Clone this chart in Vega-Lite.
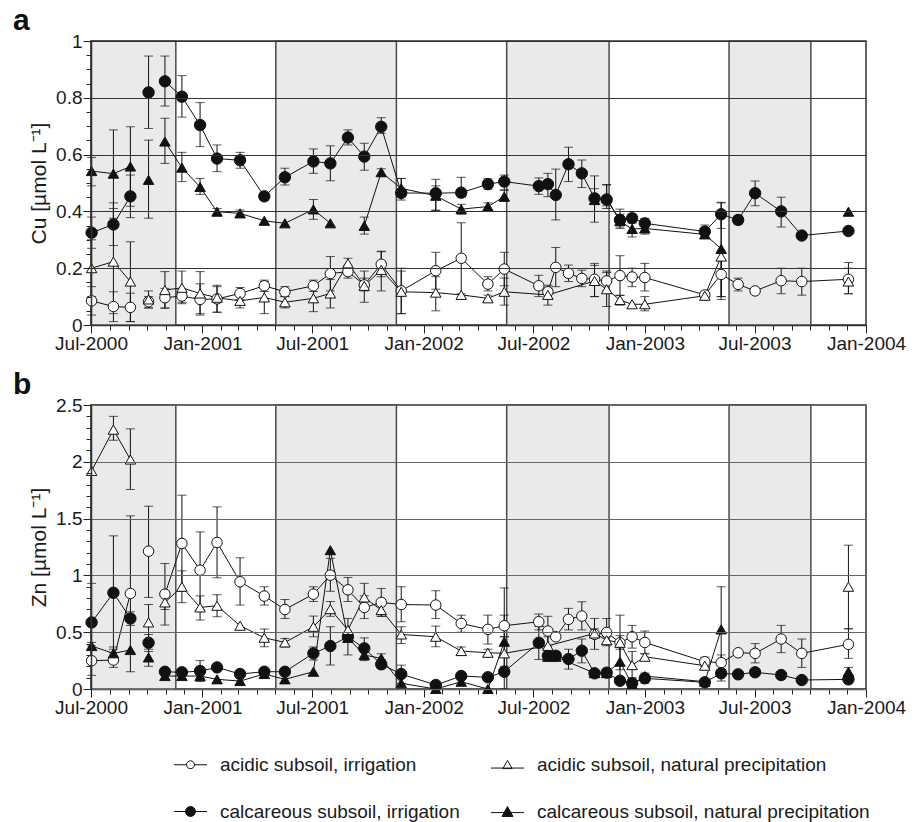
{
"$schema": "https://vega.github.io/schema/vega-lite/v6.json",
"padding": {"left": 12, "top": 5, "right": 5, "bottom": 0},
"background": "white",
"config": {
 "font": "Liberation Sans",
 "view": {"stroke": "#333", "strokeWidth": 1.5},
 "axis": {"labelFont": "Liberation Sans", "labelFontSize": 19, "labelColor": "#1a1a1a", "tickColor": "#222", "tickWidth": 1, "domainColor": "#333", "domainWidth": 1.5, "titleFont": "Liberation Sans", "titleFontSize": 21, "titleFontWeight": "normal", "titleColor": "#1a1a1a", "labelOverlap": false}
},
"spacing": 15,
"datasets": {
 "per": [
  {"start": "2000-07-01", "end": "2000-11-18"},
  {"start": "2001-05-02", "end": "2001-11-17"},
  {"start": "2002-05-18", "end": "2002-11-03"},
  {"start": "2003-05-20", "end": "2003-10-02"}
 ],
 "pts": [
  {"p":"Cu","s":"AI","d":"2000-07-02","v":0.085,"lo":0.035,"hi":0.135,"g":1},
  {"p":"Cu","s":"AI","d":"2000-08-07","v":0.065,"lo":0.012,"hi":0.117,"g":1},
  {"p":"Cu","s":"AI","d":"2000-09-04","v":0.062,"lo":0.012,"hi":0.112,"g":1},
  {"p":"Cu","s":"AI","d":"2000-10-04","v":0.082,"lo":0.06,"hi":0.1,"g":2},
  {"p":"Cu","s":"AI","d":"2000-10-31","v":0.096,"lo":0.059,"hi":0.129,"g":3},
  {"p":"Cu","s":"AI","d":"2000-11-28","v":0.102,"lo":0.08,"hi":0.125,"g":3},
  {"p":"Cu","s":"AI","d":"2000-12-28","v":0.09,"lo":0.035,"hi":0.145,"g":3},
  {"p":"Cu","s":"AI","d":"2001-01-25","v":0.092,"lo":0.045,"hi":0.135,"g":3},
  {"p":"Cu","s":"AI","d":"2001-03-04","v":0.111,"lo":0.09,"hi":0.132,"g":3},
  {"p":"Cu","s":"AI","d":"2001-04-13","v":0.138,"lo":0.118,"hi":0.158,"g":3},
  {"p":"Cu","s":"AI","d":"2001-05-17","v":0.117,"lo":0.1,"hi":0.135,"g":3},
  {"p":"Cu","s":"AI","d":"2001-07-03","v":0.138,"lo":0.118,"hi":0.158,"g":3},
  {"p":"Cu","s":"AI","d":"2001-07-31","v":0.181,"lo":0.12,"hi":0.241,"g":3},
  {"p":"Cu","s":"AI","d":"2001-08-29","v":0.188,"lo":0.165,"hi":0.21,"g":3},
  {"p":"Cu","s":"AI","d":"2001-09-25","v":0.141,"lo":0.12,"hi":0.165,"g":3},
  {"p":"Cu","s":"AI","d":"2001-10-23","v":0.214,"lo":0.17,"hi":0.258,"g":3},
  {"p":"Cu","s":"AI","d":"2001-11-25","v":0.12,"lo":0.04,"hi":0.2,"g":3},
  {"p":"Cu","s":"AI","d":"2002-01-21","v":0.191,"lo":0.126,"hi":0.256,"g":3},
  {"p":"Cu","s":"AI","d":"2002-03-04","v":0.235,"lo":0.11,"hi":0.36,"g":3},
  {"p":"Cu","s":"AI","d":"2002-04-17","v":0.144,"lo":0.12,"hi":0.17,"g":3},
  {"p":"Cu","s":"AI","d":"2002-05-14","v":0.197,"lo":0.138,"hi":0.256,"g":3},
  {"p":"Cu","s":"AI","d":"2002-07-10","v":0.138,"lo":0.1,"hi":0.175,"g":3},
  {"p":"Cu","s":"AI","d":"2002-07-25","v":0.117,"lo":0.095,"hi":0.14,"g":3},
  {"p":"Cu","s":"AI","d":"2002-08-07","v":0.203,"lo":0.135,"hi":0.273,"g":3},
  {"p":"Cu","s":"AI","d":"2002-08-28","v":0.182,"lo":0.153,"hi":0.211,"g":3},
  {"p":"Cu","s":"AI","d":"2002-09-19","v":0.164,"lo":0.135,"hi":0.193,"g":3},
  {"p":"Cu","s":"AI","d":"2002-10-10","v":0.161,"lo":0.1,"hi":0.217,"g":3},
  {"p":"Cu","s":"AI","d":"2002-10-30","v":0.155,"lo":0.12,"hi":0.19,"g":3},
  {"p":"Cu","s":"AI","d":"2002-11-21","v":0.174,"lo":0.104,"hi":0.244,"g":3},
  {"p":"Cu","s":"AI","d":"2002-12-11","v":0.169,"lo":0.135,"hi":0.2,"g":3},
  {"p":"Cu","s":"AI","d":"2003-01-01","v":0.167,"lo":0.12,"hi":0.217,"g":3},
  {"p":"Cu","s":"AI","d":"2003-04-10","v":0.106,"g":3},
  {"p":"Cu","s":"AI","d":"2003-05-07","v":0.178,"lo":0.09,"hi":0.26,"g":3},
  {"p":"Cu","s":"AI","d":"2003-06-04","v":0.143,"lo":0.12,"hi":0.165,"g":3},
  {"p":"Cu","s":"AI","d":"2003-07-02","v":0.12,"g":3},
  {"p":"Cu","s":"AI","d":"2003-08-14","v":0.156,"lo":0.11,"hi":0.2,"g":3},
  {"p":"Cu","s":"AI","d":"2003-09-17","v":0.153,"lo":0.105,"hi":0.2,"g":3},
  {"p":"Cu","s":"AI","d":"2003-12-03","v":0.161,"lo":0.11,"hi":0.22,"g":3},

  {"p":"Cu","s":"AN","d":"2000-07-02","v":0.2,"lo":0.1,"hi":0.3,"g":1},
  {"p":"Cu","s":"AN","d":"2000-08-07","v":0.223,"lo":0.04,"hi":0.41,"g":1},
  {"p":"Cu","s":"AN","d":"2000-09-04","v":0.153,"lo":0.012,"hi":0.293,"g":1},
  {"p":"Cu","s":"AN","d":"2000-10-04","v":0.09,"lo":0.06,"hi":0.12,"g":2},
  {"p":"Cu","s":"AN","d":"2000-10-31","v":0.123,"lo":0.06,"hi":0.188,"g":3},
  {"p":"Cu","s":"AN","d":"2000-11-28","v":0.131,"lo":0.075,"hi":0.19,"g":3},
  {"p":"Cu","s":"AN","d":"2000-12-28","v":0.111,"lo":0.04,"hi":0.188,"g":3},
  {"p":"Cu","s":"AN","d":"2001-01-25","v":0.096,"lo":0.045,"hi":0.14,"g":3},
  {"p":"Cu","s":"AN","d":"2001-03-04","v":0.085,"lo":0.06,"hi":0.11,"g":3},
  {"p":"Cu","s":"AN","d":"2001-04-13","v":0.097,"lo":0.04,"hi":0.153,"g":3},
  {"p":"Cu","s":"AN","d":"2001-05-17","v":0.08,"lo":0.06,"hi":0.1,"g":3},
  {"p":"Cu","s":"AN","d":"2001-07-03","v":0.094,"lo":0.047,"hi":0.14,"g":3},
  {"p":"Cu","s":"AN","d":"2001-07-31","v":0.111,"lo":0.06,"hi":0.16,"g":3},
  {"p":"Cu","s":"AN","d":"2001-08-29","v":0.217,"lo":0.2,"hi":0.235,"g":3},
  {"p":"Cu","s":"AN","d":"2001-09-25","v":0.138,"lo":0.08,"hi":0.19,"g":3},
  {"p":"Cu","s":"AN","d":"2001-10-23","v":0.194,"lo":0.12,"hi":0.26,"g":3},
  {"p":"Cu","s":"AN","d":"2001-11-25","v":0.117,"lo":0.04,"hi":0.19,"g":3},
  {"p":"Cu","s":"AN","d":"2002-01-21","v":0.114,"lo":0.05,"hi":0.17,"g":3},
  {"p":"Cu","s":"AN","d":"2002-03-04","v":0.106,"g":3},
  {"p":"Cu","s":"AN","d":"2002-04-17","v":0.094,"lo":0.085,"hi":0.105,"g":3},
  {"p":"Cu","s":"AN","d":"2002-05-14","v":0.117,"lo":0.07,"hi":0.165,"g":3},
  {"p":"Cu","s":"AN","d":"2002-07-25","v":0.106,"lo":0.07,"hi":0.13,"g":3},
  {"p":"Cu","s":"AN","d":"2002-10-10","v":0.155,"lo":0.1,"hi":0.21,"g":3},
  {"p":"Cu","s":"AN","d":"2002-10-30","v":0.126,"lo":0.065,"hi":0.185,"g":3},
  {"p":"Cu","s":"AN","d":"2002-11-21","v":0.088,"lo":0.07,"hi":0.105,"g":3},
  {"p":"Cu","s":"AN","d":"2002-12-11","v":0.073,"g":3},
  {"p":"Cu","s":"AN","d":"2003-01-01","v":0.073,"lo":0.05,"hi":0.1,"g":3},
  {"p":"Cu","s":"AN","d":"2003-04-10","v":0.103,"g":3},
  {"p":"Cu","s":"AN","d":"2003-05-07","v":0.241,"lo":0.1,"hi":0.38,"g":3},
  {"p":"Cu","s":"AN","d":"2003-12-03","v":0.153,"lo":0.11,"hi":0.2,"g":4},

  {"p":"Cu","s":"CI","d":"2000-07-02","v":0.325,"lo":0.27,"hi":0.38,"g":1},
  {"p":"Cu","s":"CI","d":"2000-08-07","v":0.354,"lo":0.28,"hi":0.43,"g":1},
  {"p":"Cu","s":"CI","d":"2000-09-04","v":0.453,"lo":0.378,"hi":0.528,"g":1},
  {"p":"Cu","s":"CI","d":"2000-10-04","v":0.819,"lo":0.692,"hi":0.947,"g":2},
  {"p":"Cu","s":"CI","d":"2000-10-31","v":0.858,"lo":0.771,"hi":0.947,"g":3},
  {"p":"Cu","s":"CI","d":"2000-11-28","v":0.804,"lo":0.732,"hi":0.878,"g":3},
  {"p":"Cu","s":"CI","d":"2000-12-28","v":0.704,"lo":0.628,"hi":0.783,"g":3},
  {"p":"Cu","s":"CI","d":"2001-01-25","v":0.586,"lo":0.54,"hi":0.634,"g":3},
  {"p":"Cu","s":"CI","d":"2001-03-04","v":0.58,"lo":0.552,"hi":0.608,"g":3},
  {"p":"Cu","s":"CI","d":"2001-04-13","v":0.453,"lo":0.44,"hi":0.465,"g":3},
  {"p":"Cu","s":"CI","d":"2001-05-17","v":0.52,"lo":0.493,"hi":0.552,"g":3},
  {"p":"Cu","s":"CI","d":"2001-07-03","v":0.576,"lo":0.534,"hi":0.62,"g":3},
  {"p":"Cu","s":"CI","d":"2001-07-31","v":0.569,"lo":0.508,"hi":0.631,"g":3},
  {"p":"Cu","s":"CI","d":"2001-08-29","v":0.66,"lo":0.634,"hi":0.687,"g":3},
  {"p":"Cu","s":"CI","d":"2001-09-25","v":0.593,"lo":0.545,"hi":0.64,"g":3},
  {"p":"Cu","s":"CI","d":"2001-10-23","v":0.698,"lo":0.675,"hi":0.73,"g":3},
  {"p":"Cu","s":"CI","d":"2001-11-25","v":0.465,"lo":0.44,"hi":0.516,"g":3},
  {"p":"Cu","s":"CI","d":"2002-01-21","v":0.464,"lo":0.404,"hi":0.513,"g":3},
  {"p":"Cu","s":"CI","d":"2002-03-04","v":0.466,"lo":0.45,"hi":0.52,"g":3},
  {"p":"Cu","s":"CI","d":"2002-04-17","v":0.496,"lo":0.478,"hi":0.515,"g":3},
  {"p":"Cu","s":"CI","d":"2002-05-14","v":0.505,"lo":0.475,"hi":0.528,"g":3},
  {"p":"Cu","s":"CI","d":"2002-07-10","v":0.489,"lo":0.46,"hi":0.518,"g":3},
  {"p":"Cu","s":"CI","d":"2002-07-25","v":0.496,"lo":0.452,"hi":0.534,"g":3},
  {"p":"Cu","s":"CI","d":"2002-08-07","v":0.458,"lo":0.37,"hi":0.549,"g":3},
  {"p":"Cu","s":"CI","d":"2002-08-28","v":0.566,"lo":0.505,"hi":0.626,"g":3},
  {"p":"Cu","s":"CI","d":"2002-09-19","v":0.534,"lo":0.484,"hi":0.581,"g":3},
  {"p":"Cu","s":"CI","d":"2002-10-10","v":0.446,"lo":0.362,"hi":0.525,"g":3},
  {"p":"Cu","s":"CI","d":"2002-10-30","v":0.442,"lo":0.42,"hi":0.493,"g":3},
  {"p":"Cu","s":"CI","d":"2002-11-21","v":0.37,"lo":0.34,"hi":0.408,"g":3},
  {"p":"Cu","s":"CI","d":"2002-12-11","v":0.376,"lo":0.36,"hi":0.39,"g":3},
  {"p":"Cu","s":"CI","d":"2003-01-01","v":0.358,"lo":0.34,"hi":0.375,"g":3},
  {"p":"Cu","s":"CI","d":"2003-04-10","v":0.329,"lo":0.305,"hi":0.352,"g":3},
  {"p":"Cu","s":"CI","d":"2003-05-07","v":0.39,"lo":0.34,"hi":0.432,"g":3},
  {"p":"Cu","s":"CI","d":"2003-06-04","v":0.37,"lo":0.355,"hi":0.385,"g":3},
  {"p":"Cu","s":"CI","d":"2003-07-02","v":0.464,"lo":0.42,"hi":0.507,"g":3},
  {"p":"Cu","s":"CI","d":"2003-08-14","v":0.4,"lo":0.345,"hi":0.45,"g":3},
  {"p":"Cu","s":"CI","d":"2003-09-17","v":0.315,"lo":0.305,"hi":0.325,"g":3},
  {"p":"Cu","s":"CI","d":"2003-12-03","v":0.331,"g":3},

  {"p":"Cu","s":"CN","d":"2000-07-02","v":0.542,"lo":0.49,"hi":0.59,"g":1},
  {"p":"Cu","s":"CN","d":"2000-08-07","v":0.533,"lo":0.376,"hi":0.687,"g":1},
  {"p":"Cu","s":"CN","d":"2000-09-04","v":0.558,"lo":0.418,"hi":0.698,"g":1},
  {"p":"Cu","s":"CN","d":"2000-10-04","v":0.511,"lo":0.376,"hi":0.651,"g":2},
  {"p":"Cu","s":"CN","d":"2000-10-31","v":0.646,"lo":0.569,"hi":0.728,"g":3},
  {"p":"Cu","s":"CN","d":"2000-11-28","v":0.554,"lo":0.505,"hi":0.608,"g":3},
  {"p":"Cu","s":"CN","d":"2000-12-28","v":0.486,"lo":0.46,"hi":0.516,"g":3},
  {"p":"Cu","s":"CN","d":"2001-01-25","v":0.399,"lo":0.39,"hi":0.41,"g":3},
  {"p":"Cu","s":"CN","d":"2001-03-04","v":0.393,"lo":0.385,"hi":0.405,"g":3},
  {"p":"Cu","s":"CN","d":"2001-04-13","v":0.367,"g":3},
  {"p":"Cu","s":"CN","d":"2001-05-17","v":0.358,"g":3},
  {"p":"Cu","s":"CN","d":"2001-07-03","v":0.407,"lo":0.372,"hi":0.442,"g":3},
  {"p":"Cu","s":"CN","d":"2001-07-31","v":0.358,"g":3},
  {"p":"Cu","s":"CN","d":"2001-09-25","v":0.349,"lo":0.32,"hi":0.38,"g":4},
  {"p":"Cu","s":"CN","d":"2001-10-23","v":0.538,"lo":0.525,"hi":0.55,"g":4},
  {"p":"Cu","s":"CN","d":"2001-11-25","v":0.481,"lo":0.45,"hi":0.516,"g":4},
  {"p":"Cu","s":"CN","d":"2002-01-21","v":0.455,"lo":0.404,"hi":0.49,"g":4},
  {"p":"Cu","s":"CN","d":"2002-03-04","v":0.408,"lo":0.39,"hi":0.425,"g":4},
  {"p":"Cu","s":"CN","d":"2002-04-17","v":0.417,"lo":0.405,"hi":0.43,"g":4},
  {"p":"Cu","s":"CN","d":"2002-05-14","v":0.452,"lo":0.435,"hi":0.475,"g":4},
  {"p":"Cu","s":"CN","d":"2002-10-10","v":0.44,"lo":0.4,"hi":0.48,"g":5},
  {"p":"Cu","s":"CN","d":"2002-10-30","v":0.446,"lo":0.41,"hi":0.495,"g":5},
  {"p":"Cu","s":"CN","d":"2002-11-21","v":0.366,"lo":0.345,"hi":0.39,"g":5},
  {"p":"Cu","s":"CN","d":"2002-12-11","v":0.338,"lo":0.31,"hi":0.36,"g":5},
  {"p":"Cu","s":"CN","d":"2003-01-01","v":0.34,"lo":0.32,"hi":0.362,"g":5},
  {"p":"Cu","s":"CN","d":"2003-04-10","v":0.319,"lo":0.305,"hi":0.335,"g":5},
  {"p":"Cu","s":"CN","d":"2003-05-07","v":0.268,"lo":0.1,"hi":0.43,"g":5},
  {"p":"Cu","s":"CN","d":"2003-12-03","v":0.399,"g":6},

  {"p":"Zn","s":"AI","d":"2000-07-02","v":0.249,"lo":0.12,"hi":0.38,"g":1},
  {"p":"Zn","s":"AI","d":"2000-08-07","v":0.255,"lo":0.19,"hi":0.32,"g":1},
  {"p":"Zn","s":"AI","d":"2000-09-04","v":0.841,"lo":0.152,"hi":1.524,"g":1},
  {"p":"Zn","s":"AI","d":"2000-10-04","v":1.213,"lo":0.806,"hi":1.609,"g":2},
  {"p":"Zn","s":"AI","d":"2000-10-31","v":0.835,"lo":0.563,"hi":1.105,"g":3},
  {"p":"Zn","s":"AI","d":"2000-11-28","v":1.281,"lo":0.86,"hi":1.706,"g":3},
  {"p":"Zn","s":"AI","d":"2000-12-28","v":1.046,"lo":0.7,"hi":1.383,"g":3},
  {"p":"Zn","s":"AI","d":"2001-01-25","v":1.29,"lo":0.979,"hi":1.603,"g":3},
  {"p":"Zn","s":"AI","d":"2001-03-04","v":0.944,"lo":0.739,"hi":1.155,"g":3},
  {"p":"Zn","s":"AI","d":"2001-04-13","v":0.818,"lo":0.739,"hi":0.9,"g":3},
  {"p":"Zn","s":"AI","d":"2001-05-17","v":0.7,"lo":0.621,"hi":0.788,"g":3},
  {"p":"Zn","s":"AI","d":"2001-07-03","v":0.835,"lo":0.77,"hi":0.9,"g":3},
  {"p":"Zn","s":"AI","d":"2001-07-31","v":1.002,"lo":0.86,"hi":1.15,"g":3},
  {"p":"Zn","s":"AI","d":"2001-08-29","v":0.873,"lo":0.77,"hi":0.982,"g":3},
  {"p":"Zn","s":"AI","d":"2001-09-25","v":0.718,"lo":0.62,"hi":0.82,"g":3},
  {"p":"Zn","s":"AI","d":"2001-10-23","v":0.762,"lo":0.64,"hi":0.885,"g":3},
  {"p":"Zn","s":"AI","d":"2001-11-25","v":0.744,"lo":0.592,"hi":0.9,"g":3},
  {"p":"Zn","s":"AI","d":"2002-01-21","v":0.739,"lo":0.621,"hi":0.865,"g":3},
  {"p":"Zn","s":"AI","d":"2002-03-04","v":0.577,"lo":0.5,"hi":0.65,"g":3},
  {"p":"Zn","s":"AI","d":"2002-04-17","v":0.525,"lo":0.396,"hi":0.65,"g":3},
  {"p":"Zn","s":"AI","d":"2002-05-14","v":0.557,"lo":0.46,"hi":0.65,"g":3},
  {"p":"Zn","s":"AI","d":"2002-07-10","v":0.592,"lo":0.52,"hi":0.66,"g":3},
  {"p":"Zn","s":"AI","d":"2002-07-25","v":0.51,"lo":0.38,"hi":0.64,"g":3},
  {"p":"Zn","s":"AI","d":"2002-08-07","v":0.46,"g":3},
  {"p":"Zn","s":"AI","d":"2002-08-28","v":0.613,"lo":0.52,"hi":0.71,"g":3},
  {"p":"Zn","s":"AI","d":"2002-09-19","v":0.642,"lo":0.52,"hi":0.768,"g":3},
  {"p":"Zn","s":"AI","d":"2002-10-10","v":0.481,"lo":0.349,"hi":0.621,"g":3},
  {"p":"Zn","s":"AI","d":"2002-10-30","v":0.498,"lo":0.38,"hi":0.62,"g":3},
  {"p":"Zn","s":"AI","d":"2002-11-21","v":0.407,"lo":0.17,"hi":0.65,"g":3},
  {"p":"Zn","s":"AI","d":"2002-12-11","v":0.46,"lo":0.36,"hi":0.56,"g":3},
  {"p":"Zn","s":"AI","d":"2003-01-01","v":0.41,"lo":0.31,"hi":0.51,"g":3},
  {"p":"Zn","s":"AI","d":"2003-04-10","v":0.24,"lo":0.2,"hi":0.28,"g":3},
  {"p":"Zn","s":"AI","d":"2003-05-07","v":0.232,"lo":0.17,"hi":0.3,"g":3},
  {"p":"Zn","s":"AI","d":"2003-06-04","v":0.319,"g":3},
  {"p":"Zn","s":"AI","d":"2003-07-02","v":0.314,"lo":0.23,"hi":0.4,"g":3},
  {"p":"Zn","s":"AI","d":"2003-08-14","v":0.44,"lo":0.32,"hi":0.56,"g":3},
  {"p":"Zn","s":"AI","d":"2003-09-17","v":0.314,"lo":0.19,"hi":0.44,"g":3},
  {"p":"Zn","s":"AI","d":"2003-12-03","v":0.393,"lo":0.27,"hi":0.53,"g":3},

  {"p":"Zn","s":"AN","d":"2000-07-02","v":1.92,"g":1},
  {"p":"Zn","s":"AN","d":"2000-08-07","v":2.283,"lo":2.19,"hi":2.4,"g":1},
  {"p":"Zn","s":"AN","d":"2000-09-04","v":2.02,"lo":1.756,"hi":2.29,"g":1},
  {"p":"Zn","s":"AN","d":"2000-10-04","v":0.586,"lo":0.43,"hi":0.744,"g":2},
  {"p":"Zn","s":"AN","d":"2000-10-31","v":0.762,"lo":0.7,"hi":0.82,"g":3},
  {"p":"Zn","s":"AN","d":"2000-11-28","v":0.9,"lo":0.76,"hi":1.04,"g":3},
  {"p":"Zn","s":"AN","d":"2000-12-28","v":0.718,"lo":0.607,"hi":0.82,"g":3},
  {"p":"Zn","s":"AN","d":"2001-01-25","v":0.733,"lo":0.636,"hi":0.83,"g":3},
  {"p":"Zn","s":"AN","d":"2001-03-04","v":0.557,"g":3},
  {"p":"Zn","s":"AN","d":"2001-04-13","v":0.451,"lo":0.372,"hi":0.528,"g":3},
  {"p":"Zn","s":"AN","d":"2001-05-17","v":0.41,"lo":0.37,"hi":0.445,"g":3},
  {"p":"Zn","s":"AN","d":"2001-07-03","v":0.548,"lo":0.46,"hi":0.642,"g":3},
  {"p":"Zn","s":"AN","d":"2001-07-31","v":0.703,"lo":0.64,"hi":0.77,"g":3},
  {"p":"Zn","s":"AN","d":"2001-08-29","v":0.52,"g":3},
  {"p":"Zn","s":"AN","d":"2001-09-25","v":0.806,"lo":0.695,"hi":0.93,"g":3},
  {"p":"Zn","s":"AN","d":"2001-10-23","v":0.695,"lo":0.64,"hi":0.75,"g":3},
  {"p":"Zn","s":"AN","d":"2001-11-25","v":0.48,"lo":0.4,"hi":0.548,"g":3},
  {"p":"Zn","s":"AN","d":"2002-01-21","v":0.46,"lo":0.372,"hi":0.554,"g":3},
  {"p":"Zn","s":"AN","d":"2002-03-04","v":0.334,"lo":0.3,"hi":0.37,"g":3},
  {"p":"Zn","s":"AN","d":"2002-04-17","v":0.319,"lo":0.29,"hi":0.35,"g":3},
  {"p":"Zn","s":"AN","d":"2002-05-14","v":0.314,"lo":0.2,"hi":0.46,"g":3},
  {"p":"Zn","s":"AN","d":"2002-07-25","v":0.38,"lo":0.3,"hi":0.46,"g":3},
  {"p":"Zn","s":"AN","d":"2002-10-10","v":0.489,"lo":0.45,"hi":0.53,"g":3},
  {"p":"Zn","s":"AN","d":"2002-10-30","v":0.43,"lo":0.4,"hi":0.46,"g":3},
  {"p":"Zn","s":"AN","d":"2002-11-21","v":0.407,"lo":0.35,"hi":0.47,"g":3},
  {"p":"Zn","s":"AN","d":"2002-12-11","v":0.21,"lo":0.1,"hi":0.33,"g":3},
  {"p":"Zn","s":"AN","d":"2003-01-01","v":0.284,"lo":0.26,"hi":0.31,"g":3},
  {"p":"Zn","s":"AN","d":"2003-04-10","v":0.205,"lo":0.18,"hi":0.23,"g":3},
  {"p":"Zn","s":"AN","d":"2003-12-03","v":0.9,"lo":0.53,"hi":1.266,"g":4},

  {"p":"Zn","s":"CI","d":"2000-07-02","v":0.586,"lo":0.25,"hi":0.93,"g":1},
  {"p":"Zn","s":"CI","d":"2000-08-07","v":0.847,"lo":0.35,"hi":1.348,"g":1},
  {"p":"Zn","s":"CI","d":"2000-09-04","v":0.621,"lo":0.56,"hi":0.68,"g":1},
  {"p":"Zn","s":"CI","d":"2000-10-04","v":0.407,"lo":0.33,"hi":0.48,"g":2},
  {"p":"Zn","s":"CI","d":"2000-10-31","v":0.152,"lo":0.12,"hi":0.18,"g":3},
  {"p":"Zn","s":"CI","d":"2000-11-28","v":0.147,"g":3},
  {"p":"Zn","s":"CI","d":"2000-12-28","v":0.158,"lo":0.066,"hi":0.25,"g":3},
  {"p":"Zn","s":"CI","d":"2001-01-25","v":0.19,"g":3},
  {"p":"Zn","s":"CI","d":"2001-03-04","v":0.132,"g":3},
  {"p":"Zn","s":"CI","d":"2001-04-13","v":0.152,"g":3},
  {"p":"Zn","s":"CI","d":"2001-05-17","v":0.152,"g":3},
  {"p":"Zn","s":"CI","d":"2001-07-03","v":0.314,"lo":0.255,"hi":0.37,"g":3},
  {"p":"Zn","s":"CI","d":"2001-07-31","v":0.378,"lo":0.211,"hi":0.548,"g":3},
  {"p":"Zn","s":"CI","d":"2001-08-29","v":0.46,"lo":0.3,"hi":0.621,"g":3},
  {"p":"Zn","s":"CI","d":"2001-09-25","v":0.358,"lo":0.27,"hi":0.45,"g":3},
  {"p":"Zn","s":"CI","d":"2001-10-23","v":0.217,"lo":0.18,"hi":0.26,"g":3},
  {"p":"Zn","s":"CI","d":"2001-11-25","v":0.132,"lo":0.05,"hi":0.21,"g":3},
  {"p":"Zn","s":"CI","d":"2002-01-21","v":0.035,"g":3},
  {"p":"Zn","s":"CI","d":"2002-03-04","v":0.114,"g":3},
  {"p":"Zn","s":"CI","d":"2002-04-17","v":0.103,"g":3},
  {"p":"Zn","s":"CI","d":"2002-05-14","v":0.152,"g":3},
  {"p":"Zn","s":"CI","d":"2002-07-10","v":0.407,"lo":0.26,"hi":0.55,"g":3},
  {"p":"Zn","s":"CI","d":"2002-07-25","v":0.293,"lo":0.25,"hi":0.34,"g":3},
  {"p":"Zn","s":"CI","d":"2002-08-07","v":0.293,"g":3},
  {"p":"Zn","s":"CI","d":"2002-08-28","v":0.264,"lo":0.175,"hi":0.35,"g":3},
  {"p":"Zn","s":"CI","d":"2002-09-19","v":0.337,"lo":0.23,"hi":0.44,"g":3},
  {"p":"Zn","s":"CI","d":"2002-10-10","v":0.138,"g":3},
  {"p":"Zn","s":"CI","d":"2002-10-30","v":0.144,"g":3},
  {"p":"Zn","s":"CI","d":"2002-11-21","v":0.073,"g":3},
  {"p":"Zn","s":"CI","d":"2002-12-11","v":0.05,"g":3},
  {"p":"Zn","s":"CI","d":"2003-01-01","v":0.094,"lo":0.05,"hi":0.14,"g":3},
  {"p":"Zn","s":"CI","d":"2003-04-10","v":0.059,"g":3},
  {"p":"Zn","s":"CI","d":"2003-05-07","v":0.138,"lo":0.07,"hi":0.2,"g":3},
  {"p":"Zn","s":"CI","d":"2003-06-04","v":0.129,"g":3},
  {"p":"Zn","s":"CI","d":"2003-07-02","v":0.147,"lo":0.12,"hi":0.17,"g":3},
  {"p":"Zn","s":"CI","d":"2003-08-14","v":0.123,"lo":0.09,"hi":0.15,"g":3},
  {"p":"Zn","s":"CI","d":"2003-09-17","v":0.079,"g":3},
  {"p":"Zn","s":"CI","d":"2003-12-03","v":0.085,"g":3},

  {"p":"Zn","s":"CN","d":"2000-07-02","v":0.378,"lo":0.35,"hi":0.41,"g":1},
  {"p":"Zn","s":"CN","d":"2000-08-07","v":0.314,"lo":0.28,"hi":0.37,"g":1},
  {"p":"Zn","s":"CN","d":"2000-09-04","v":0.343,"g":1},
  {"p":"Zn","s":"CN","d":"2000-10-04","v":0.278,"lo":0.2,"hi":0.35,"g":2},
  {"p":"Zn","s":"CN","d":"2000-10-31","v":0.114,"g":3},
  {"p":"Zn","s":"CN","d":"2000-11-28","v":0.114,"g":3},
  {"p":"Zn","s":"CN","d":"2000-12-28","v":0.114,"g":3},
  {"p":"Zn","s":"CN","d":"2001-01-25","v":0.085,"g":3},
  {"p":"Zn","s":"CN","d":"2001-03-04","v":0.07,"g":3},
  {"p":"Zn","s":"CN","d":"2001-04-13","v":0.132,"g":3},
  {"p":"Zn","s":"CN","d":"2001-05-17","v":0.085,"g":3},
  {"p":"Zn","s":"CN","d":"2001-07-03","v":0.152,"g":3},
  {"p":"Zn","s":"CN","d":"2001-07-31","v":1.222,"g":3},
  {"p":"Zn","s":"CN","d":"2001-08-29","v":0.45,"g":3},
  {"p":"Zn","s":"CN","d":"2001-09-25","v":0.299,"lo":0.25,"hi":0.35,"g":3},
  {"p":"Zn","s":"CN","d":"2001-10-23","v":0.27,"lo":0.22,"hi":0.31,"g":3},
  {"p":"Zn","s":"CN","d":"2001-11-25","v":0.05,"g":3},
  {"p":"Zn","s":"CN","d":"2002-01-21","v":0.0,"g":3},
  {"p":"Zn","s":"CN","d":"2002-03-04","v":0.064,"g":3},
  {"p":"Zn","s":"CN","d":"2002-04-17","v":0.0,"g":3},
  {"p":"Zn","s":"CN","d":"2002-05-14","v":0.416,"lo":0.0,"hi":0.89,"g":3},
  {"p":"Zn","s":"CN","d":"2002-07-25","v":0.284,"lo":0.25,"hi":0.32,"g":4},
  {"p":"Zn","s":"CN","d":"2002-08-07","v":0.284,"g":4},
  {"p":"Zn","s":"CN","d":"2002-10-10","v":0.14,"g":4},
  {"p":"Zn","s":"CN","d":"2002-10-30","v":0.14,"g":4},
  {"p":"Zn","s":"CN","d":"2002-11-21","v":0.24,"lo":0.1,"hi":0.38,"g":4},
  {"p":"Zn","s":"CN","d":"2002-12-11","v":0.04,"lo":0.0,"hi":0.09,"g":4},
  {"p":"Zn","s":"CN","d":"2003-01-01","v":0.114,"g":4},
  {"p":"Zn","s":"CN","d":"2003-04-10","v":0.064,"g":4},
  {"p":"Zn","s":"CN","d":"2003-05-07","v":0.525,"lo":0.15,"hi":0.9,"g":4},
  {"p":"Zn","s":"CN","d":"2003-12-03","v":0.152,"lo":0.12,"hi":0.19,"g":5}
 ]
},
"vconcat": [
 {
  "width": 775, "height": 284,
  "title": {"text": "a", "anchor": "start", "frame": "group", "dx": -78, "fontSize": 30, "fontWeight": "bold", "font": "Liberation Sans", "baseline": "alphabetic", "offset": -28, "color": "#111"},
  "layer": [
   {"data": {"name": "per"}, "mark": {"type": "rect", "fill": "#e9eaea", "stroke": "#4a4a4a", "strokeWidth": 1.5},
    "encoding": {
     "x": {"field": "start", "type": "temporal", "scale": {"domain": [{"year": 2000, "month": 7, "date": 1}, {"year": 2004, "month": 1, "date": 1}], "nice": false},
       "axis": {"title": null, "grid": false, "tickCount": {"interval": "month", "step": 1}, "labelExpr": "month(datum.value)%6==0 ? timeFormat(datum.value,'%b-%Y') : ''", "tickSize": {"condition": {"test": "month(datum.value)%6==0", "value": 8}, "value": 5}, "labelPadding": 1, "labelFlush": false, "labelOverlap": false}},
     "x2": {"field": "end"}}},
   {"data": {"name": "pts"}, "transform": [{"filter": "datum.p=='Cu'"}], "mark": {"type": "line", "color": "#111", "strokeWidth": 1},
    "encoding": {
     "x": {"field": "d", "type": "temporal"},
     "y": {"field": "v", "type": "quantitative", "title": "Cu [µmol L⁻¹]", "scale": {"domain": [0, 1], "nice": false},
       "axis": {"titlePadding": 6, "tickCount": 200, "values": [0,0.05,0.1,0.15,0.2,0.25,0.3,0.35,0.4,0.45,0.5,0.55,0.6,0.65,0.7,0.75,0.8,0.85,0.9,0.95,1], "labelExpr": "indexof(['0','0.2','0.4','0.6','0.8','1'], format(datum.value,'~g')) >= 0 ? format(datum.value,'~g') : ''", "tickSize": {"condition": {"test": "indexof(['0','0.2','0.4','0.6','0.8','1'], format(datum.value,'~g')) >= 0", "value": 8}, "value": 5}, "labelPadding": 1, "grid": true, "gridColor": "#333", "gridWidth": 1, "gridOpacity": {"condition": {"test": "indexof(['0','0.2','0.4','0.6','0.8','1'], format(datum.value,'~g')) >= 0", "value": 1}, "value": 0}, "zindex": 1, "labelOverlap": false}},
     "detail": [{"field": "s"}, {"field": "g"}]}},
   {"data": {"name": "pts"}, "transform": [{"filter": "datum.p=='Cu' && isValid(datum.lo)"}], "mark": {"type": "errorbar", "color": "#111", "thickness": 1, "ticks": {"size": 9, "color": "#111"}},
    "encoding": {"x": {"field": "d", "type": "temporal"}, "y": {"field": "lo", "type": "quantitative", "title": "Cu [µmol L⁻¹]"}, "y2": {"field": "hi"}}},
   {"data": {"name": "pts"}, "transform": [{"filter": "datum.p=='Cu' && datum.s=='AI'"}], "mark": {"type": "point", "shape": "circle", "size": 110, "stroke": "#111", "strokeWidth": 1, "fill": "#ffffff", "opacity": 1},
    "encoding": {"x": {"field": "d", "type": "temporal"}, "y": {"field": "v", "type": "quantitative", "title": "Cu [µmol L⁻¹]"}}},
   {"data": {"name": "pts"}, "transform": [{"filter": "datum.p=='Cu' && datum.s=='CI'"}], "mark": {"type": "point", "shape": "circle", "size": 130, "stroke": "#111", "strokeWidth": 1, "fill": "#111111", "opacity": 1},
    "encoding": {"x": {"field": "d", "type": "temporal"}, "y": {"field": "v", "type": "quantitative", "title": "Cu [µmol L⁻¹]"}}},
   {"data": {"name": "pts"}, "transform": [{"filter": "datum.p=='Cu' && datum.s=='AN'"}], "mark": {"type": "point", "shape": "triangle-up", "size": 110, "stroke": "#111", "strokeWidth": 1, "fill": "#ffffff", "opacity": 1},
    "encoding": {"x": {"field": "d", "type": "temporal"}, "y": {"field": "v", "type": "quantitative", "title": "Cu [µmol L⁻¹]"}}},
   {"data": {"name": "pts"}, "transform": [{"filter": "datum.p=='Cu' && datum.s=='CN'"}], "mark": {"type": "point", "shape": "triangle-up", "size": 110, "stroke": "#111", "strokeWidth": 1, "fill": "#111111", "opacity": 1},
    "encoding": {"x": {"field": "d", "type": "temporal"}, "y": {"field": "v", "type": "quantitative", "title": "Cu [µmol L⁻¹]"}}}
  ]
 },
 {
  "width": 775, "height": 284,
  "title": {"text": "b", "anchor": "start", "frame": "group", "dx": -78, "fontSize": 30, "fontWeight": "bold", "font": "Liberation Sans", "baseline": "alphabetic", "offset": -28, "color": "#111"},
  "layer": [
   {"data": {"name": "per"}, "mark": {"type": "rect", "fill": "#e9eaea", "stroke": "#4a4a4a", "strokeWidth": 1.5},
    "encoding": {
     "x": {"field": "start", "type": "temporal", "scale": {"domain": [{"year": 2000, "month": 7, "date": 1}, {"year": 2004, "month": 1, "date": 1}], "nice": false},
       "axis": {"title": null, "grid": false, "tickCount": {"interval": "month", "step": 1}, "labelExpr": "month(datum.value)%6==0 ? timeFormat(datum.value,'%b-%Y') : ''", "tickSize": {"condition": {"test": "month(datum.value)%6==0", "value": 8}, "value": 5}, "labelPadding": 1, "labelFlush": false, "labelOverlap": false}},
     "x2": {"field": "end"}}},
   {"data": {"name": "pts"}, "transform": [{"filter": "datum.p=='Zn'"}], "mark": {"type": "line", "color": "#111", "strokeWidth": 1},
    "encoding": {
     "x": {"field": "d", "type": "temporal"},
     "y": {"field": "v", "type": "quantitative", "title": "Zn [µmol L⁻¹]", "scale": {"domain": [0, 2.5], "nice": false},
       "axis": {"titlePadding": 6, "tickCount": 200, "values": [0,0.1,0.2,0.3,0.4,0.5,0.6,0.7,0.8,0.9,1,1.1,1.2,1.3,1.4,1.5,1.6,1.7,1.8,1.9,2,2.1,2.2,2.3,2.4,2.5], "labelExpr": "indexof(['0','0.5','1','1.5','2','2.5'], format(datum.value,'~g')) >= 0 ? format(datum.value,'~g') : ''", "tickSize": {"condition": {"test": "indexof(['0','0.5','1','1.5','2','2.5'], format(datum.value,'~g')) >= 0", "value": 8}, "value": 5}, "labelPadding": 1, "grid": true, "gridColor": "#666", "gridWidth": 1, "gridOpacity": {"condition": {"test": "indexof(['0','0.5','1','1.5','2','2.5'], format(datum.value,'~g')) >= 0", "value": 1}, "value": 0}, "zindex": 1, "labelOverlap": false}},
     "detail": [{"field": "s"}, {"field": "g"}]}},
   {"data": {"name": "pts"}, "transform": [{"filter": "datum.p=='Zn' && isValid(datum.lo)"}], "mark": {"type": "errorbar", "color": "#111", "thickness": 1, "ticks": {"size": 9, "color": "#111"}},
    "encoding": {"x": {"field": "d", "type": "temporal"}, "y": {"field": "lo", "type": "quantitative", "title": "Zn [µmol L⁻¹]"}, "y2": {"field": "hi"}}},
   {"data": {"name": "pts"}, "transform": [{"filter": "datum.p=='Zn' && datum.s=='AI'"}], "mark": {"type": "point", "shape": "circle", "size": 110, "stroke": "#111", "strokeWidth": 1, "fill": "#ffffff", "opacity": 1},
    "encoding": {"x": {"field": "d", "type": "temporal"}, "y": {"field": "v", "type": "quantitative", "title": "Zn [µmol L⁻¹]"}}},
   {"data": {"name": "pts"}, "transform": [{"filter": "datum.p=='Zn' && datum.s=='CI'"}], "mark": {"type": "point", "shape": "circle", "size": 130, "stroke": "#111", "strokeWidth": 1, "fill": "#111111", "opacity": 1},
    "encoding": {"x": {"field": "d", "type": "temporal"}, "y": {"field": "v", "type": "quantitative", "title": "Zn [µmol L⁻¹]"}}},
   {"data": {"name": "pts"}, "transform": [{"filter": "datum.p=='Zn' && datum.s=='AN'"}], "mark": {"type": "point", "shape": "triangle-up", "size": 110, "stroke": "#111", "strokeWidth": 1, "fill": "#ffffff", "opacity": 1},
    "encoding": {"x": {"field": "d", "type": "temporal"}, "y": {"field": "v", "type": "quantitative", "title": "Zn [µmol L⁻¹]"}}},
   {"data": {"name": "pts"}, "transform": [{"filter": "datum.p=='Zn' && datum.s=='CN'"}], "mark": {"type": "point", "shape": "triangle-up", "size": 110, "stroke": "#111", "strokeWidth": 1, "fill": "#111111", "opacity": 1},
    "encoding": {"x": {"field": "d", "type": "temporal"}, "y": {"field": "v", "type": "quantitative", "title": "Zn [µmol L⁻¹]"}}},
   {"data": {"name": "pts"}, "transform": [{"filter": "datum.p=='Zn'"}], "mark": {"type": "point", "opacity": 0, "stroke": "#111", "strokeWidth": 1},
    "encoding": {
     "shape": {"field": "s", "type": "nominal", "scale": {"domain": ["AI", "AN", "CI", "CN"], "range": ["M-1.5,0L-0.36,0M0.36,0L1.5,0M-0.36,0A0.36,0.36,0,1,0,0.36,0A0.36,0.36,0,1,0,-0.36,0Z", "M-1.5,0.3L1.5,0.3M0,-0.4L0.42,0.35L-0.42,0.35Z", "M-1.5,0L-0.45,0M0.45,0L1.5,0M-0.45,0A0.45,0.45,0,1,0,0.45,0A0.45,0.45,0,1,0,-0.45,0Z", "M-1.5,0.1L1.5,0.1M0,-0.45L0.5,0.45L-0.5,0.45Z"]},
       "legend": {"title": null, "orient": "none", "legendX": 88, "legendY": 712, "columns": 2, "direction": "horizontal", "symbolSize": 484, "labelFontSize": 19, "labelFont": "Liberation Sans", "labelColor": "#1a1a1a", "labelOffset": 18, "labelLimit": 400, "rowPadding": 25, "columnPadding": 29, "symbolStrokeColor": "#111", "symbolStrokeWidth": 1, "symbolOpacity": 1, "labelExpr": "datum.label=='AI' ? 'acidic subsoil, irrigation' : datum.label=='AN' ? 'acidic subsoil, natural precipitation' : datum.label=='CI' ? 'calcareous subsoil, irrigation' : 'calcareous subsoil, natural precipitation'", "encode": {"symbols": {"update": {"stroke": {"value": "#111111"}, "strokeWidth": {"value": 1}, "strokeOpacity": {"value": 1}, "opacity": {"value": 1}}}}}},
     "fill": {"field": "s", "type": "nominal", "scale": {"domain": ["AI", "AN", "CI", "CN"], "range": ["#ffffff", "#ffffff", "#111111", "#111111"]},
       "legend": {"title": null, "orient": "none", "legendX": 88, "legendY": 712, "columns": 2, "direction": "horizontal", "symbolSize": 484, "labelFontSize": 19, "labelFont": "Liberation Sans", "labelColor": "#1a1a1a", "labelOffset": 18, "labelLimit": 400, "rowPadding": 25, "columnPadding": 29, "symbolStrokeColor": "#111", "symbolStrokeWidth": 1, "symbolOpacity": 1, "labelExpr": "datum.label=='AI' ? 'acidic subsoil, irrigation' : datum.label=='AN' ? 'acidic subsoil, natural precipitation' : datum.label=='CI' ? 'calcareous subsoil, irrigation' : 'calcareous subsoil, natural precipitation'", "encode": {"symbols": {"update": {"stroke": {"value": "#111111"}, "strokeWidth": {"value": 1}, "strokeOpacity": {"value": 1}, "opacity": {"value": 1}}}}}}}}
  ]
 }
]
}
